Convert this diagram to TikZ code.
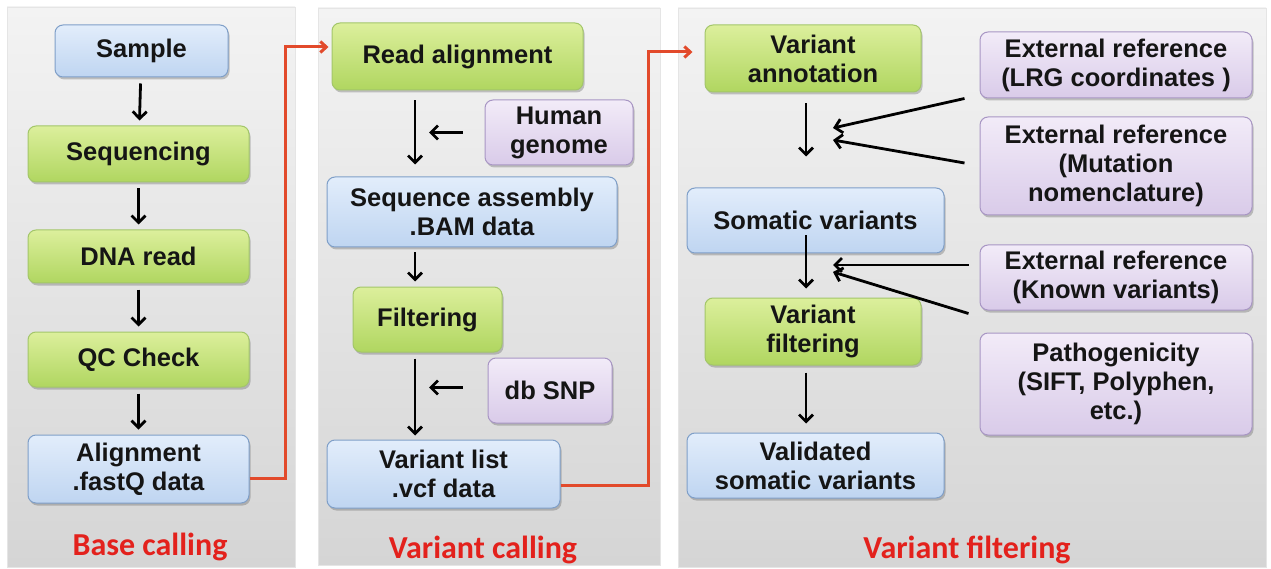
\documentclass[tikz,border=0pt]{standalone}
\usepackage{fontspec}
\setmainfont{Liberation Sans}
\newfontfamily\labelfont{Carlito}
\usetikzlibrary{arrows.meta,shadows,calc}
\definecolor{bluetop}{HTML}{E2EDFB}
\definecolor{bluebot}{HTML}{BFD5F1}
\definecolor{bluedraw}{HTML}{7F9FC8}
\definecolor{greentop}{HTML}{DCEF9C}
\definecolor{greenbot}{HTML}{B0D660}
\definecolor{greendraw}{HTML}{A3C66A}
\definecolor{purptop}{HTML}{F2EBF8}
\definecolor{purpbot}{HTML}{D9CBE9}
\definecolor{purpdraw}{HTML}{A896C4}
\definecolor{paneltop}{HTML}{F3F3F3}
\definecolor{panelbot}{HTML}{D5D5D5}
\definecolor{connred}{HTML}{E24A2B}
\definecolor{labelred}{HTML}{E3211C}
\definecolor{txt}{HTML}{151515}
\tikzset{
  box/.style={rounded corners=8pt, draw, line width=1pt, align=center, inner sep=0pt,
    font=\fontsize{25.5}{29}\selectfont\bfseries, text=txt,
    drop shadow={shadow xshift=1.5pt, shadow yshift=-2.5pt, opacity=0.3, fill=black!70}},
  bluebox/.style={box, draw=bluedraw, top color=bluetop, bottom color=bluebot},
  greenbox/.style={box, draw=greendraw, top color=greentop, bottom color=greenbot},
  purpbox/.style={box, draw=purpdraw, top color=purptop, bottom color=purpbot},
  panel/.style={draw=gray!20, line width=0.6pt, top color=paneltop, bottom color=panelbot},
  stagelabel/.style={font=\labelfont\fontsize{32}{36}\selectfont\bfseries, text=labelred},
  arr/.style={line width=2.8pt, draw=black, -{Straight Barb[length=7pt,width=14pt]}},
  redarr/.style={line width=3pt, draw=connred, -{Straight Barb[length=6pt,width=11pt]}}
}
\begin{document}
\begin{tikzpicture}[x=1pt,y=-1pt]
\useasboundingbox (0,0) rectangle (1271,569);
\fill[white] (0,0) rectangle (1271,569);
% panels
\path[panel] (7,7) rectangle (295,567);
\path[panel] (318,8) rectangle (660,565);
\path[panel] (678,8) rectangle (1266,567);

% panel 1
\node[bluebox, minimum width=173pt, minimum height=52pt] (sample) at (141.5,51) {Sample};
\node[greenbox, minimum width=221pt, minimum height=56pt] (seq) at (138.5,154) {Sequencing};
\node[greenbox, minimum width=221pt, minimum height=53pt] (dna) at (138.5,256.5) {DNA read};
\node[greenbox, minimum width=221pt, minimum height=55pt] (qc) at (138.5,359.5) {QC Check};
\node[bluebox, minimum width=221pt, minimum height=68pt] (align) at (138.5,469) {Alignment\\.fastQ data};
\node[stagelabel] (lab1) at (150,547) {Base calling};

\draw[arr, shorten <=6pt, shorten >=5pt] (sample) -- (seq);
\draw[arr, shorten <=6pt, shorten >=5pt] (seq) -- (dna);
\draw[arr, shorten <=6pt, shorten >=5pt] (dna) -- (qc);
\draw[arr, shorten <=6pt, shorten >=5pt] (qc) -- (align);

% panel 2
\node[greenbox, minimum width=251pt, minimum height=67pt] (readal) at (457.5,56.5) {Read alignment};
\node[purpbox, minimum width=148pt, minimum height=65pt] (human) at (559,132.5) {Human\\genome};
\node[bluebox, minimum width=290pt, minimum height=70pt] (seqasm) at (472,212) {Sequence assembly\\.BAM data};
\node[greenbox, minimum width=149pt, minimum height=65pt] (filt) at (427.5,319.5) {Filtering};
\node[purpbox, minimum width=124pt, minimum height=65pt] (dbsnp) at (550,390.5) {db SNP};
\node[bluebox, minimum width=233pt, minimum height=68pt] (varlist) at (443.5,474) {Variant list\\.vcf data};
\node[stagelabel] (lab2) at (483,550) {Variant calling};

\coordinate (c2) at (415,0);
\coordinate (dbw) at ([yshift=3pt]dbsnp.west);
\draw[arr, shorten <=10pt, shorten >=12pt] (readal.south -| c2) -- (seqasm.north -| c2);
\draw[arr, shorten <=22pt, shorten >=14pt] (human.west) -- (human.west -| c2);
\draw[arr, shorten <=5pt, shorten >=5pt] (seqasm.south -| c2) -- (filt.north -| c2);
\draw[arr, shorten <=6pt, shorten >=4pt] (filt.south -| c2) -- (varlist.north -| c2);
\draw[arr, shorten <=25pt, shorten >=14pt] (dbw) -- (dbw -| c2);

% panel 3
\node[greenbox, minimum width=216pt, minimum height=67pt] (varann) at (813,58.5) {Variant\\annotation};
\node[purpbox, minimum width=272pt, minimum height=66pt] (lrg) at (1116,65) {External reference\\(LRG coordinates )};
\node[purpbox, minimum width=272pt, minimum height=98pt] (mut) at (1116,166) {External reference\\(Mutation\\nomenclature)};
\node[bluebox, minimum width=257pt, minimum height=65pt] (som) at (815.5,220.5) {Somatic variants};
\node[purpbox, minimum width=272pt, minimum height=65pt] (known) at (1116,277.5) {External reference\\(Known variants)};
\node[greenbox, minimum width=216pt, minimum height=67pt] (varfilt) at (813,331.5) {Variant\\filtering};
\node[purpbox, minimum width=272pt, minimum height=102pt] (path) at (1116,384) {Pathogenicity\\(SIFT, Polyphen,\\etc.)};
\node[bluebox, minimum width=257pt, minimum height=65pt] (valid) at (815.5,465.5) {Validated\\somatic variants};
\node[stagelabel] (lab3) at (967,550) {Variant filtering};

\coordinate (c3) at (806,0);
\coordinate (soms) at ([yshift=18pt]som.south);
\draw[arr, shorten <=11pt, shorten >=31pt] (varann.south -| c3) -- (som.north -| c3);
\draw[arr, shorten >=9pt] (soms -| c3) -- (varfilt.north -| c3);
\draw[arr, shorten <=7pt, shorten >=9pt] (varfilt.south -| c3) -- (valid.north -| c3);

\coordinate (t1) at (833,128);
\coordinate (t2) at (833,140);
\coordinate (t3) at (833,265);
\coordinate (t4) at (833,272);
\draw[arr] ([xshift=-15pt]lrg.south west) -- (t1);
\draw[arr] ([xshift=-15pt,yshift=3pt]mut.west) -- (t2);
\draw[arr] ([xshift=-11pt,yshift=12.5pt]known.west) -- (t3);
\draw[arr] ([xshift=-11pt,yshift=-3pt]known.south west) -- (t4);

% red connectors
\coordinate (r1) at (285,0);
\coordinate (r2) at (648,0);
\coordinate (ae) at ([yshift=-9pt]align.east);
\coordinate (rw) at ([yshift=9.5pt]readal.west);
\coordinate (ve) at ([yshift=-11pt]varlist.east);
\coordinate (vw) at ([yshift=6.5pt]varann.west);
\draw[redarr, shorten >=3pt] (ae) -- (ae -| r1) -- (r1 |- rw) -- (rw);
\draw[redarr, shorten >=12pt] (ve) -- (ve -| r2) -- (r2 |- vw) -- (vw);
\end{tikzpicture}
\end{document}
